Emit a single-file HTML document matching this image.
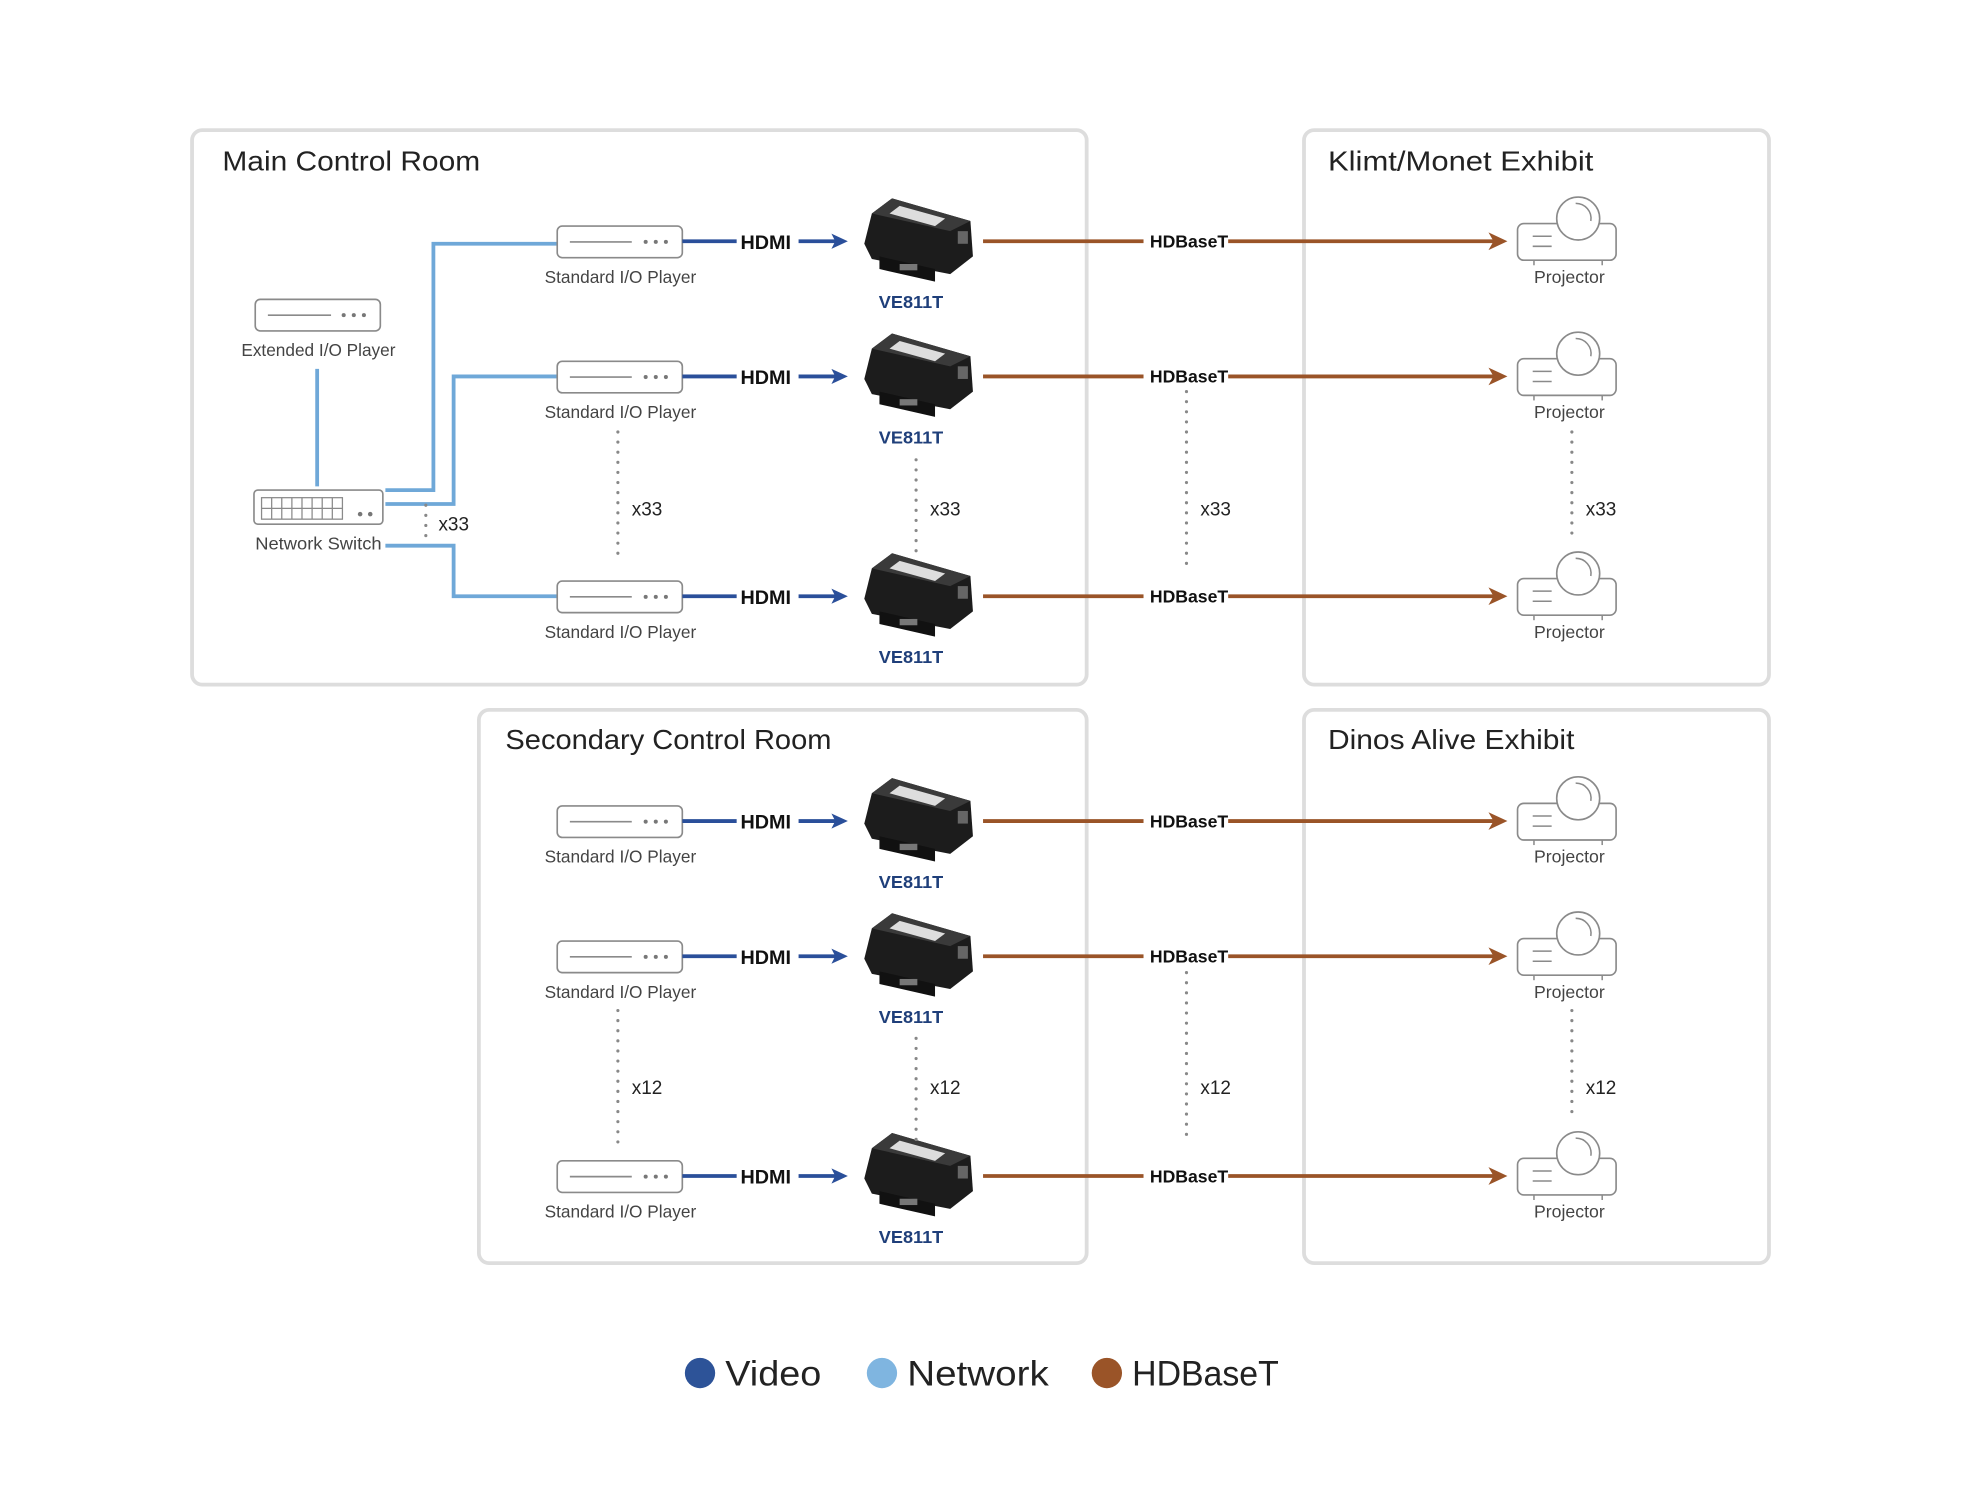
<!DOCTYPE html>
<html><head><meta charset="utf-8"><style>html,body{margin:0;padding:0;background:#fff}svg{display:block}text{font-family:"Liberation Sans",sans-serif}</style></head>
<body>
<svg width="1980" height="1488" viewBox="0 0 1567 1178" preserveAspectRatio="none" xmlns="http://www.w3.org/2000/svg">
<defs>
<g id="player">
<rect x="441" y="-12" width="99" height="25" rx="4" fill="#fff" stroke="#8a8a8a" stroke-width="1.3"/>
<line x1="451" y1="0.5" x2="500" y2="0.5" stroke="#8a8a8a" stroke-width="1.3"/>
<circle cx="511" cy="0.5" r="1.6" fill="#777"/><circle cx="519" cy="0.5" r="1.6" fill="#777"/><circle cx="527" cy="0.5" r="1.6" fill="#777"/>
<text x="491" y="33" font-size="14" fill="#444" text-anchor="middle" textLength="120" lengthAdjust="spacingAndGlyphs">Standard I/O Player</text>
</g>
<g id="dev">
<polygon points="690,-22 706,-34 768,-16 770,12 752,26 690,14 684,2" fill="#1c1c1c"/>
<polygon points="690,-22 706,-34 768,-16 752,-8" fill="#3a3a3a"/>
<polygon points="704,-22 712,-28 748,-18 740,-12" fill="#ddd"/>
<polygon points="696,12 740,22 740,32 696,22" fill="#111"/>
<rect x="712" y="18" width="14" height="5" fill="#777"/>
<rect x="758" y="-8" width="8" height="10" fill="#666"/>
</g>
<g id="hdmi">
<line x1="540" y1="0" x2="583" y2="0" stroke="#2a4f9a" stroke-width="3"/>
<text x="586" y="6" font-size="15" font-weight="bold" fill="#111" textLength="40" lengthAdjust="spacingAndGlyphs">HDMI</text>
<line x1="632" y1="0" x2="662" y2="0" stroke="#2a4f9a" stroke-width="3"/>
<polygon points="671,0 658,-6 661,0 658,6" fill="#2a4f9a"/>
</g>
<g id="hdb">
<line x1="778" y1="0" x2="905" y2="0" stroke="#9a5428" stroke-width="3"/>
<text x="910" y="5" font-size="14" font-weight="bold" fill="#111" textLength="62" lengthAdjust="spacingAndGlyphs">HDBaseT</text>
<line x1="972" y1="0" x2="1182" y2="0" stroke="#9a5428" stroke-width="3"/>
<polygon points="1193,0 1178,-7 1182,0 1178,7" fill="#9a5428"/>
</g>
<g id="proj">
<rect x="1201" y="-14" width="78" height="29" rx="5" fill="#fff" stroke="#8a8a8a" stroke-width="1.3"/>
<circle cx="1249" cy="-18" r="17" fill="#fff" stroke="#8a8a8a" stroke-width="1.3"/>
<path d="M1247,-30 A12,12 0 0 1 1259,-16" fill="none" stroke="#8a8a8a" stroke-width="1.2"/>
<line x1="1213" y1="-4" x2="1228" y2="-4" stroke="#8a8a8a" stroke-width="1.2"/>
<line x1="1213" y1="4" x2="1228" y2="4" stroke="#8a8a8a" stroke-width="1.2"/>
<line x1="1214" y1="15" x2="1214" y2="19" stroke="#8a8a8a" stroke-width="1.2"/>
<line x1="1268" y1="15" x2="1268" y2="19" stroke="#8a8a8a" stroke-width="1.2"/>
<text x="1242" y="33" font-size="14" fill="#444" text-anchor="middle" textLength="56" lengthAdjust="spacingAndGlyphs">Projector</text>
</g>
<g id="row"><use href="#player"/><use href="#hdmi"/><use href="#dev"/><use href="#hdb"/><use href="#proj"/>
<text x="721" y="53" font-size="14" font-weight="bold" fill="#1f3f7a" text-anchor="middle" textLength="51" lengthAdjust="spacingAndGlyphs">VE811T</text></g>
</defs>

<g fill="none" stroke="#ddd" stroke-width="3">
<rect x="152" y="103" width="708" height="439" rx="8"/>
<rect x="1032" y="103" width="368" height="439" rx="8"/>
<rect x="379" y="562" width="481" height="438" rx="8"/>
<rect x="1032" y="562" width="368" height="438" rx="8"/>
</g>
<g font-size="22" fill="#222">
<text x="176" y="135" textLength="204" lengthAdjust="spacingAndGlyphs">Main Control Room</text>
<text x="1051" y="135" textLength="210" lengthAdjust="spacingAndGlyphs">Klimt/Monet Exhibit</text>
<text x="400" y="593" textLength="258" lengthAdjust="spacingAndGlyphs">Secondary Control Room</text>
<text x="1051" y="593" textLength="195" lengthAdjust="spacingAndGlyphs">Dinos Alive Exhibit</text>
</g>

<g fill="none" stroke="#6fa8d8" stroke-width="3">
<line x1="251" y1="292" x2="251" y2="385"/>
<polyline points="305,388 343,388 343,193 441,193"/>
<polyline points="305,399 359,399 359,298 441,298"/>
<polyline points="305,432 359,432 359,472 441,472"/>
</g>
<rect x="202" y="237" width="99" height="25" rx="4" fill="#fff" stroke="#8a8a8a" stroke-width="1.3"/>
<line x1="212" y1="249.5" x2="262" y2="249.5" stroke="#8a8a8a" stroke-width="1.3"/>
<circle cx="272" cy="249.5" r="1.6" fill="#777"/><circle cx="280" cy="249.5" r="1.6" fill="#777"/><circle cx="288" cy="249.5" r="1.6" fill="#777"/>
<text x="252" y="282" font-size="14" fill="#444" text-anchor="middle" textLength="122" lengthAdjust="spacingAndGlyphs">Extended I/O Player</text>
<rect x="201" y="388" width="102" height="27" rx="3" fill="#fff" stroke="#8a8a8a" stroke-width="1.3"/>
<g stroke="#8a8a8a" stroke-width="1" fill="none">
<rect x="207" y="394" width="64" height="17"/>
<line x1="207" y1="402.5" x2="271" y2="402.5"/>
<line x1="215" y1="394" x2="215" y2="411"/><line x1="223" y1="394" x2="223" y2="411"/><line x1="231" y1="394" x2="231" y2="411"/><line x1="239" y1="394" x2="239" y2="411"/><line x1="247" y1="394" x2="247" y2="411"/><line x1="255" y1="394" x2="255" y2="411"/><line x1="263" y1="394" x2="263" y2="411"/>
</g>
<circle cx="285" cy="407" r="1.8" fill="#777"/><circle cx="293" cy="407" r="1.8" fill="#777"/>
<text x="252" y="435" font-size="14" fill="#444" text-anchor="middle" textLength="100" lengthAdjust="spacingAndGlyphs">Network Switch</text>

<use href="#row" y="191"/>
<use href="#row" y="298"/>
<use href="#row" y="472"/>
<use href="#row" y="650"/>
<use href="#row" y="757"/>
<use href="#row" y="931"/>

<g stroke="#888" stroke-width="2.5" stroke-linecap="round" stroke-dasharray="0 8" fill="none">
<line x1="337" y1="400" x2="337" y2="428"/>
<line x1="489" y1="342" x2="489" y2="445"/>
<line x1="725" y1="364" x2="725" y2="440"/>
<line x1="939" y1="310" x2="939" y2="450"/>
<line x1="1244" y1="342" x2="1244" y2="430"/>
<line x1="489" y1="800" x2="489" y2="905"/>
<line x1="725" y1="822" x2="725" y2="905"/>
<line x1="939" y1="770" x2="939" y2="905"/>
<line x1="1244" y1="800" x2="1244" y2="885"/>
</g>
<g font-size="15" fill="#222">
<text x="347" y="420">x33</text>
<text x="500" y="408">x33</text><text x="736" y="408">x33</text><text x="950" y="408">x33</text><text x="1255" y="408">x33</text>
<text x="500" y="866">x12</text><text x="736" y="866">x12</text><text x="950" y="866">x12</text><text x="1255" y="866">x12</text>
</g>

<circle cx="554" cy="1087" r="12" fill="#2d5398"/>
<circle cx="698" cy="1087" r="12" fill="#7fb5e0"/>
<circle cx="876" cy="1087" r="12" fill="#9a5428"/>
<g font-size="28" fill="#222">
<text x="574" y="1097" textLength="76" lengthAdjust="spacingAndGlyphs">Video</text>
<text x="718" y="1097" textLength="112" lengthAdjust="spacingAndGlyphs">Network</text>
<text x="896" y="1097" textLength="116" lengthAdjust="spacingAndGlyphs">HDBaseT</text>
</g>
</svg>
</body></html>
